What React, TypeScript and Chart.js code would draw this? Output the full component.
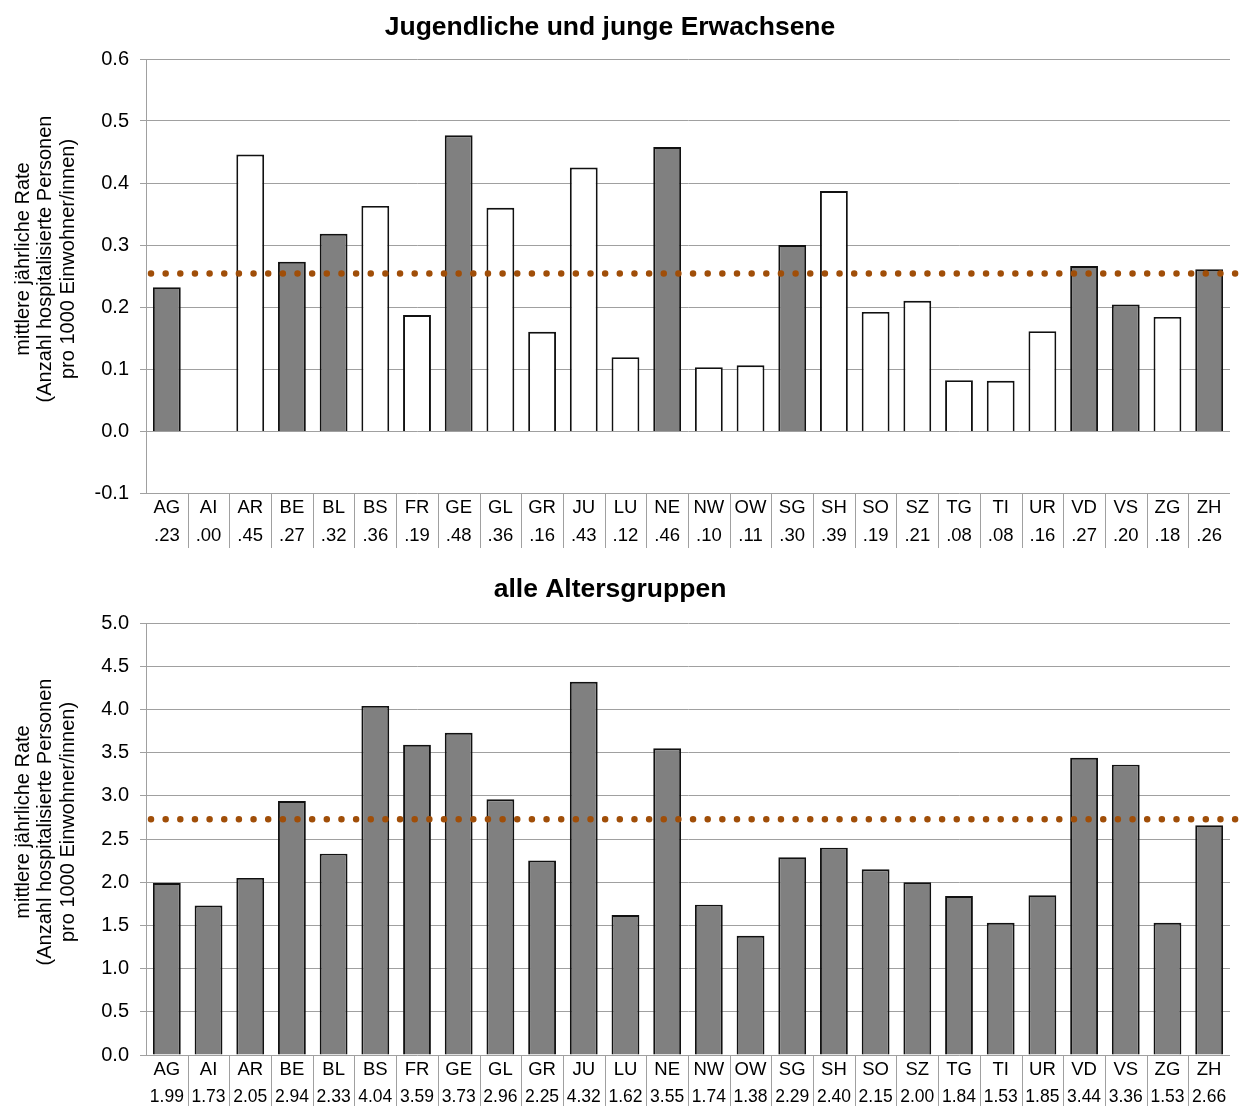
import React, { useEffect, useRef } from 'react';
import { Chart, registerables } from 'chart.js';

Chart.register(...registerables);

const cantons = ['AG', 'AI', 'AR', 'BE', 'BL', 'BS', 'FR', 'GE', 'GL', 'GR', 'JU', 'LU', 'NE', 'NW', 'OW', 'SG', 'SH', 'SO', 'SZ', 'TG', 'TI', 'UR', 'VD', 'VS', 'ZG', 'ZH'];

const youthTitle = 'Jugendliche und junge Erwachsene';
const youthValues = [0.232, 0, 0.446, 0.273, 0.318, 0.363, 0.187, 0.477, 0.36, 0.16, 0.425, 0.119, 0.458, 0.103, 0.106, 0.30, 0.387, 0.192, 0.21, 0.082, 0.081, 0.161, 0.266, 0.204, 0.184, 0.261];
const youthLabels = ['.23', '.00', '.45', '.27', '.32', '.36', '.19', '.48', '.36', '.16', '.43', '.12', '.46', '.10', '.11', '.30', '.39', '.19', '.21', '.08', '.08', '.16', '.27', '.20', '.18', '.26'];
const youthHighlighted = [true, false, false, true, true, false, false, true, false, false, false, false, true, false, false, true, false, false, false, false, false, false, true, true, false, true];
const youthAverage = 0.254;

const allTitle = 'alle Altersgruppen';
const allValues = [1.99, 1.73, 2.05, 2.94, 2.33, 4.04, 3.59, 3.73, 2.96, 2.25, 4.32, 1.62, 3.55, 1.74, 1.38, 2.29, 2.40, 2.15, 2.00, 1.84, 1.53, 1.85, 3.44, 3.36, 1.53, 2.66];
const allLabels = ['1.99', '1.73', '2.05', '2.94', '2.33', '4.04', '3.59', '3.73', '2.96', '2.25', '4.32', '1.62', '3.55', '1.74', '1.38', '2.29', '2.40', '2.15', '2.00', '1.84', '1.53', '1.85', '3.44', '3.36', '1.53', '2.66'];
const allHighlighted = allValues.map(() => true);
const allAverage = 2.73;

const yTitleLines = ['mittlere jährliche Rate', '(Anzahl hospitalisierte Personen', 'pro 1000 Einwohner/innen)'];

const FONT = '"Liberation Sans", Arial, sans-serif';
const GRID = '#A0A0A0';
const BAR_GRAY = '#808080';
const DOT = '#A04E08';

type PanelCfg = {
  title: string;
  values: number[];
  labels: string[];
  highlighted: boolean[];
  average: number;
  min: number;
  max: number;
  step: number;
  padTop: number;
  axisHeight: number;
  titleBaseline: number;
  valueFont: number;
  sepLength: number;
};

function makeChart(canvas: HTMLCanvasElement, cfg: PanelCfg) {
  const decor = {
    id: 'decor',
    afterDatasetsDraw(chart: any) {
      const { ctx, chartArea, scales } = chart;
      const yy = scales.y.getPixelForValue(cfg.average);
      ctx.save();
      ctx.strokeStyle = DOT;
      ctx.lineWidth = 6.5;
      ctx.lineCap = 'round';
      ctx.setLineDash([0, 14.65]);
      ctx.beginPath();
      ctx.moveTo(chartArea.left + 5, yy);
      ctx.lineTo(chart.width + 5, yy);
      ctx.stroke();
      ctx.restore();
    },
    afterDraw(chart: any) {
      const { ctx, chartArea, scales } = chart;
      const xs = scales.x;
      ctx.save();
      // title
      ctx.fillStyle = '#000';
      ctx.font = `bold 26.5px ${FONT}`;
      ctx.textAlign = 'center';
      ctx.textBaseline = 'alphabetic';
      ctx.fillText(cfg.title, 610, cfg.titleBaseline);
      // y title
      ctx.font = `20px ${FONT}`;
      ctx.textBaseline = 'middle';
      const yc = (chartArea.top + chartArea.bottom) / 2 - 17;
      const xPos = [23, 45.5, 68];
      yTitleLines.forEach((line, i) => {
        ctx.save();
        ctx.translate(xPos[i], yc);
        ctx.rotate(-Math.PI / 2);
        ctx.fillText(line, 0, 0);
        ctx.restore();
      });
      // table separators
      ctx.strokeStyle = GRID;
      ctx.lineWidth = 1;
      for (let i = 1; i < cantons.length; i++) {
        const xm = Math.round((xs.getPixelForValue(i - 1) + xs.getPixelForValue(i)) / 2) + 0.5;
        ctx.beginPath();
        ctx.moveTo(xm, chartArea.bottom);
        ctx.lineTo(xm, chartArea.bottom + cfg.sepLength);
        ctx.stroke();
      }
      // table text
      ctx.fillStyle = '#000';
      ctx.textAlign = 'center';
      ctx.textBaseline = 'middle';
      cantons.forEach((c, i) => {
        const px = xs.getPixelForValue(i);
        ctx.font = `18.5px ${FONT}`;
        ctx.fillText(c, px, chartArea.bottom + 15);
        ctx.font = `${cfg.valueFont}px ${FONT}`;
        ctx.fillText(cfg.labels[i], px, chartArea.bottom + 42.5);
      });
      ctx.restore();
    },
  };

  return new Chart(canvas, {
    type: 'bar',
    data: {
      labels: cantons,
      datasets: [
        {
          data: cfg.values,
          backgroundColor: cfg.highlighted.map((h) => (h ? BAR_GRAY : '#FFFFFF')),
          borderColor: '#111111',
          borderWidth: cfg.values.map((v) => (v === 0 ? 0 : 1.9)) as any,
          barPercentage: 0.667,
          categoryPercentage: 1,
        },
      ],
    },
    options: {
      responsive: false,
      animation: false,
      events: [],
      layout: { padding: { left: 0, right: 9, top: cfg.padTop, bottom: 0 } },
      plugins: {
        legend: { display: false },
        tooltip: { enabled: false },
        title: { display: false },
      },
      scales: {
        x: {
          type: 'category',
          grid: { display: false },
          border: { display: false },
          ticks: { display: false },
          afterFit: (s: any) => {
            s.height = cfg.axisHeight;
          },
        },
        y: {
          min: cfg.min,
          max: cfg.max,
          ticks: {
            stepSize: cfg.step,
            color: '#000',
            padding: 11,
            font: { family: FONT, size: 20 },
            callback: (v: any) => {
              const n = Number(v);
              return (Math.abs(n) < 1e-9 ? 0 : n).toFixed(1);
            },
          },
          grid: { color: GRID, lineWidth: 1, tickLength: 6, drawTicks: true },
          border: { display: true, color: GRID, width: 1 },
          afterFit: (s: any) => {
            s.width = 146;
          },
        },
      },
    },
    plugins: [decor],
  } as any);
}

export default function App() {
  const topRef = useRef<HTMLCanvasElement>(null);
  const bottomRef = useRef<HTMLCanvasElement>(null);

  useEffect(() => {
    document.body.style.margin = '0';
    const c1 = makeChart(topRef.current!, {
      title: youthTitle,
      values: youthValues,
      labels: youthLabels,
      highlighted: youthHighlighted,
      average: youthAverage,
      min: -0.1,
      max: 0.6,
      step: 0.1,
      padTop: 59,
      axisHeight: 60,
      titleBaseline: 35,
      valueFont: 18.5,
      sepLength: 55,
    });
    const c2 = makeChart(bottomRef.current!, {
      title: allTitle,
      values: allValues,
      labels: allLabels,
      highlighted: allHighlighted,
      average: allAverage,
      min: 0,
      max: 5,
      step: 0.5,
      padTop: 70,
      axisHeight: 51,
      titleBaseline: 44,
      valueFont: 17.5,
      sepLength: 60,
    });
    return () => {
      c1.destroy();
      c2.destroy();
    };
  }, []);

  return (
    <div style={{ position: 'relative', width: 1239, height: 1106, background: '#fff' }}>
      <canvas ref={topRef} width={1239} height={553} style={{ position: 'absolute', left: 0, top: 0, display: 'block' }} />
      <canvas ref={bottomRef} width={1239} height={553} style={{ position: 'absolute', left: 0, top: 553, display: 'block' }} />
    </div>
  );
}
